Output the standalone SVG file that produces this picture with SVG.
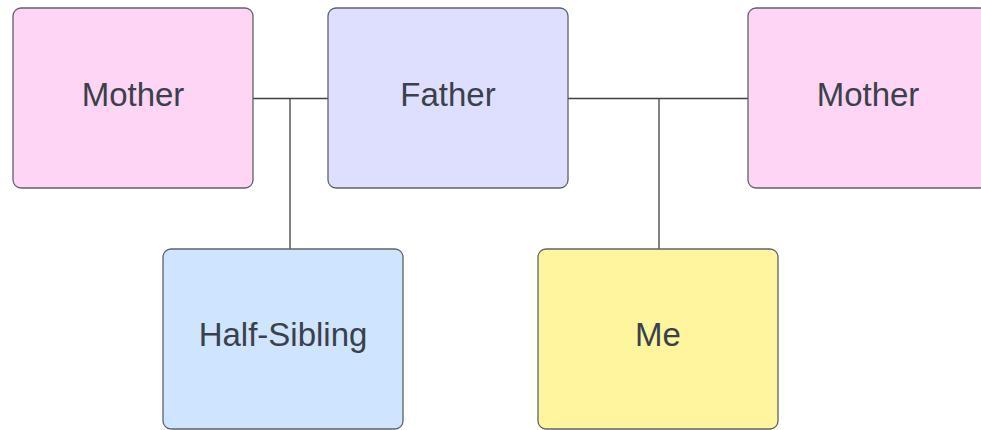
<svg xmlns="http://www.w3.org/2000/svg" width="981" height="430" viewBox="0 0 981 430">
  <style>
    .box { stroke: #5f6368; stroke-width: 1.3; }
    .label { font-family: "Liberation Sans", Arial, sans-serif; font-size: 33px; fill: #3a414a; text-anchor: middle; dominant-baseline: central; }
    .link { stroke: #3d4147; stroke-width: 1.3; fill: none; }
  </style>
  <rect width="981" height="430" fill="#ffffff"/>
  <g id="connectors">
    <path class="link" d="M253 98.5 H328 M290 98.5 V249"/>
    <path class="link" d="M568 98.5 H748 M659 98.5 V249"/>
  </g>
  <g id="mother-left">
    <rect class="box" x="13" y="8" width="240" height="180" rx="8" fill="#fed5f5"/>
    <text class="label" x="133" y="94">Mother</text>
  </g>
  <g id="father">
    <rect class="box" x="328" y="8" width="240" height="180" rx="8" fill="#dedfff"/>
    <text class="label" x="448" y="94">Father</text>
  </g>
  <g id="mother-right">
    <rect class="box" x="748" y="8" width="240" height="180" rx="8" fill="#fed5f5"/>
    <text class="label" x="868" y="94">Mother</text>
  </g>
  <g id="half-sibling">
    <rect class="box" x="163" y="249" width="240" height="180" rx="8" fill="#cfe4ff"/>
    <text class="label" x="283" y="334">Half-Sibling</text>
  </g>
  <g id="me">
    <rect class="box" x="538" y="249" width="240" height="180" rx="8" fill="#fff59e"/>
    <text class="label" x="658" y="334">Me</text>
  </g>
</svg>
